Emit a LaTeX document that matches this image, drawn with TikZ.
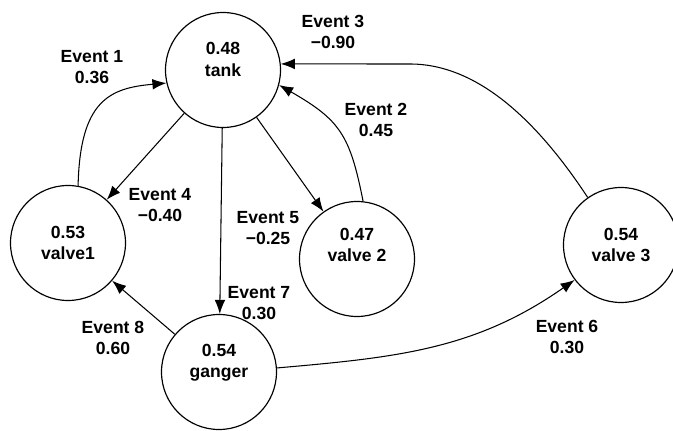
\documentclass[tikz,border=0pt]{standalone}
\usepackage{fontspec}
\setmainfont{Liberation Sans}
\usetikzlibrary{arrows.meta}

\begin{document}
\begin{tikzpicture}[x=0.03cm,y=-0.03cm,>={Latex[length=4.2mm,width=3.2mm]},
    font=\fontsize{15}{18.5}\selectfont\bfseries,
    state/.style ={circle, draw, line width=1pt, inner sep = 0pt, minimum size=3.45cm},
    event/.style ={align=center},
    every label/.style={align=center}]
   \useasboundingbox (0,0) rectangle (673,431);
   \node[state] (tank)   [label={[yshift=9pt]center:0.48\\tank}]     at (223,70)  {};
   \node[state] (valve1) [label={center:0.53\\valve1}]               at (68,243)  {};
   \node[state] (valve2) [label={[yshift=12pt]center:0.47\\valve 2}] at (357,259) {};
   \node[state] (valve3) [label={center:0.54\\valve 3}]              at (621,245) {};
   \node[state] (ganger) [label={[yshift=8pt]center:0.54\\ganger}]   at (219,372) {};
   \node[event] (e1) at (92,67)   {Event 1\\0.36};
   \node[event] (e2) at (376,120) {Event 2\\0.45};
   \node[event] (e3) at (333,32)  {Event 3\\−0.90};
   \node[event] (e4) at (160,205) {Event 4\\−0.40};
   \node[event] (e5) at (268,228) {Event 5\\−0.25};
   \node[event] (e6) at (567,337) {Event 6\\0.30};
   \node[event] (e7) at (259,303) {Event 7\\0.30};
   \node[event] (e8) at (113,338) {Event 8\\0.60};
   \draw[line width=0.9pt,->] (valve1.80) .. controls (80,100) and (110,88) .. (tank.193);
   \draw[line width=0.9pt,->] (valve2.84) .. controls (350,135) and (340,120) .. (tank.345);
   \draw[line width=0.9pt,->] (valve3.125) .. controls (540,125) and (480,64) .. (410,64) -- (tank.6);
   \draw[line width=0.9pt,->] (tank) to (valve1);
   \draw[line width=0.9pt,->] (tank) to (valve2);
   \draw[line width=0.9pt,->] (tank) to (ganger);
   \draw[line width=0.9pt,->] (ganger) to (valve1);
   \draw[line width=0.9pt,->] (ganger.4) to[out=5,in=215] (valve3.217);
 \end{tikzpicture}
\end{document}
